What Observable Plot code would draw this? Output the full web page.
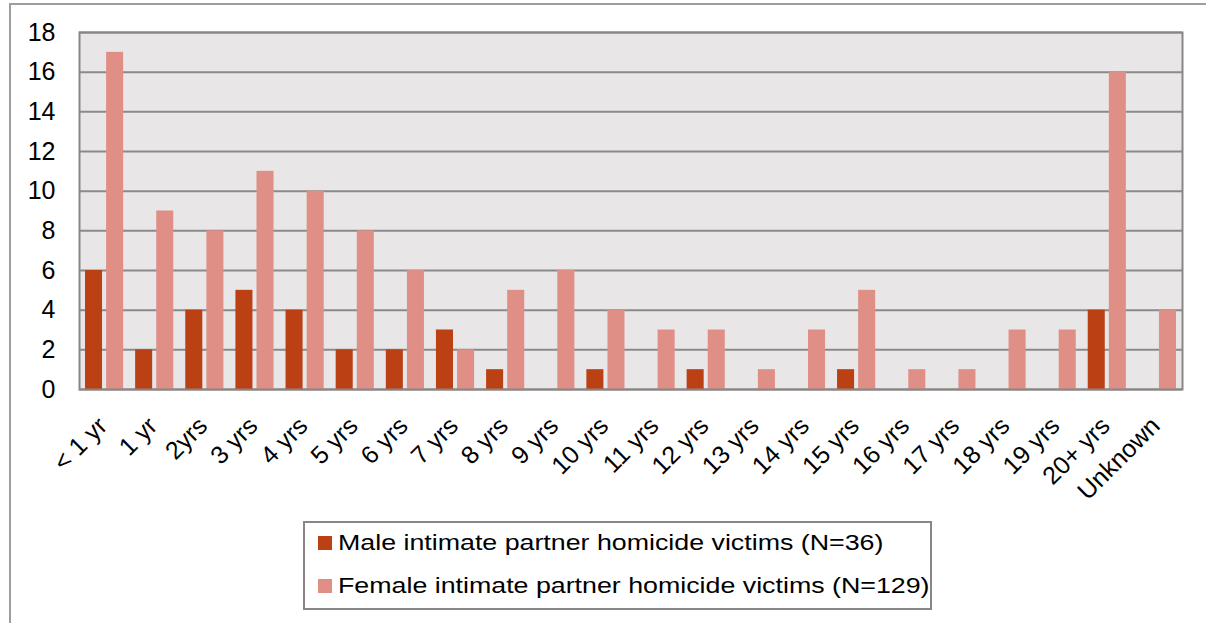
<!DOCTYPE html>
<html>
<head>
<meta charset="utf-8">
<script src="https://cdn.jsdelivr.net/npm/d3@7"></script>
<script src="https://cdn.jsdelivr.net/npm/@observablehq/plot@0.6"></script>
<style>
  html, body { margin: 0; padding: 0; background: #fff; }
  #wrap { position: relative; width: 1206px; height: 623px; overflow: hidden; font-family: "Liberation Sans", Arial, sans-serif; }
  #outer { position: absolute; left: 9px; top: 3px; right: -10px; bottom: -10px; border-left: 2px solid #a09c9c; border-top: 2px solid #a09c9c; }
  #chart { position: absolute; left: 0; top: 0; }
  #legend { position: absolute; left: 303px; top: 521px; width: 625px; height: 85px; border: 2px solid #8c8585; box-sizing: content-box; }
  .row { position: absolute; left: 13px; height: 26px; display: flex; align-items: center; font-size: 22.5px; line-height: 26px; color: #000; white-space: nowrap; }
  .sw { width: 14px; height: 14px; margin-right: 6px; flex: none; }
  .lbl { display: inline-block; transform: scaleX(1.19); transform-origin: left center; }
</style>
</head>
<body>
<div id="wrap">
  <div id="outer"></div>
  <div id="chart"></div>
  <div id="legend"></div>
</div>
<script>
const categories = ["< 1 yr", "1 yr", "2yrs", "3 yrs", "4 yrs", "5 yrs", "6 yrs", "7 yrs", "8 yrs", "9 yrs", "10 yrs",
  "11 yrs", "12 yrs", "13 yrs", "14 yrs", "15 yrs", "16 yrs", "17 yrs", "18 yrs", "19 yrs", "20+ yrs", "Unknown"];
const maleValues   = [6, 2, 4, 5, 4, 2, 2, 3, 1, 0, 1, 0, 1, 0, 0, 1, 0, 0, 0, 0, 4, 0];
const femaleValues = [17, 9, 8, 11, 10, 8, 6, 2, 5, 6, 4, 3, 3, 1, 3, 5, 1, 1, 3, 3, 16, 4];
const seriesNames = ["Male intimate partner homicide victims (N=36)", "Female intimate partner homicide victims (N=129)"];
const seriesColors = ["#bb4115", "#e08f87"];
const yTicks = [0, 2, 4, 6, 8, 10, 12, 14, 16, 18];

const maleRows = categories.map((c, i) => ({category: c, value: maleValues[i]}));
const femaleRows = categories.map((c, i) => ({category: c, value: femaleValues[i]}));

const chart = Plot.plot({
  width: 1206,
  height: 623,
  marginLeft: 79,
  marginRight: 24,
  marginTop: 32,
  marginBottom: 234,
  style: {fontFamily: "'Liberation Sans', Arial, sans-serif", color: "#000", background: "transparent"},
  x: {type: "band", domain: categories, padding: 0, round: false, label: null},
  y: {domain: [0, 18], label: null},
  marks: [
    Plot.frame({fill: "#e8e6e7", stroke: null}),
    Plot.gridY(yTicks, {stroke: "#8a8a8a", strokeOpacity: 1, strokeWidth: 2}),
    Plot.barY(maleRows, {x: "category", y: "value", fill: seriesColors[0], insetLeft: 6, insetRight: 27.1}),
    Plot.barY(femaleRows, {x: "category", y: "value", fill: seriesColors[1], insetLeft: 27.1, insetRight: 6}),
    Plot.frame({stroke: "#8c8585", strokeWidth: 2}),
    Plot.axisY(yTicks, {tickSize: 0, tickPadding: 24, fontSize: 25, label: null}),
    Plot.axisX({tickSize: 0, tickRotate: -45, tickPadding: 38, fontSize: 25, label: null, textAnchor: "end", lineAnchor: "bottom", dx: 4})
  ]
});
document.getElementById("chart").appendChild(chart);

const legend = document.getElementById("legend");
seriesNames.forEach((name, i) => {
  const row = document.createElement("div");
  row.className = "row";
  row.style.top = (i === 0 ? 7 : 50) + "px";
  const sw = document.createElement("div");
  sw.className = "sw";
  sw.style.background = seriesColors[i];
  const t = document.createElement("span");
  t.className = "lbl";
  t.textContent = name;
  row.appendChild(sw);
  row.appendChild(t);
  legend.appendChild(row);
});
</script>
</body>
</html>
